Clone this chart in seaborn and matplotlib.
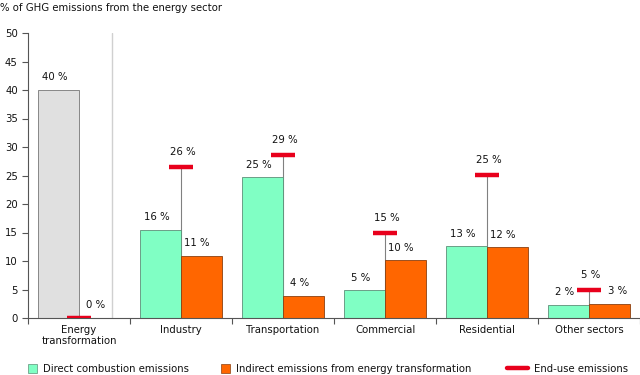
import matplotlib
matplotlib.use("Agg")
import matplotlib.pyplot as plt
import seaborn as sns
import pandas as pd
import numpy as np
from matplotlib.patches import Patch
from matplotlib.lines import Line2D

categories = ["Energy\ntransformation", "Industry", "Transportation", "Commercial", "Residential", "Other sectors"]
direct = [40.0, 15.5, 24.7, 4.9, 12.6, 2.3]
indirect = [0.0, 10.9, 3.9, 10.1, 12.45, 2.5]
end_use = [0.0, 26.5, 28.6, 15.0, 25.1, 4.9]
direct_labels = ["40 %", "16 %", "25 %", "5 %", "13 %", "2 %"]
indirect_labels = ["0 %", "11 %", "4 %", "10 %", "12 %", "3 %"]
end_labels = ["", "26 %", "29 %", "15 %", "25 %", "5 %"]
y_ticks = [0, 5, 10, 15, 20, 25, 30, 35, 40, 45, 50]

series_names = ["Direct combustion emissions", "Indirect emissions from energy transformation"]

GREEN = "#80FFC4"
ORANGE = "#FF6600"
RED = "#E8001C"
GRAY = "#E0E0E0"
DARK = "#555555"

sns.set_theme(style="white")
plt.rcParams["font.family"] = ["DejaVu Sans"]
plt.rcParams["text.color"] = "#111111"
FS = 7.3

df = pd.DataFrame({
    "category": categories * 2,
    "series": [series_names[0]] * len(categories) + [series_names[1]] * len(categories),
    "value": direct + indirect,
})

fig = plt.figure(figsize=(6.4, 3.75), dpi=100)
ax = fig.add_axes([28 / 640, 1 - 318 / 375, 612 / 640, 285 / 375])

x = np.arange(len(categories))

# connecting vertical lines (behind bars)
for xi, e in zip(x, end_use):
    if e > 0:
        ax.vlines(xi, 0, e, color="#808080", lw=0.8, zorder=1)

sns.barplot(data=df, x="category", y="value", hue="series", order=categories,
            hue_order=series_names, palette=[GREEN, ORANGE], width=0.8, saturation=1,
            edgecolor=DARK, linewidth=0.6, ax=ax, legend=False, zorder=2)

# recolor energy-transformation bar gray
n = len(categories)
bars = ax.patches[:2 * n]
bars[0].set_facecolor(GRAY)
bars[0].set_edgecolor("#777777")
for p in bars[1:n]:
    p.set_edgecolor("#5d8f78")
for p in bars[n:]:
    p.set_edgecolor("#8a4010")

# end-use marks
ax.hlines(end_use, x - 0.118, x + 0.118, color=RED, lw=3.2, zorder=4)

# labels
for i in range(n):
    ax.annotate(direct_labels[i], (x[i] - 0.2, direct[i]), xytext=(-3, 9), textcoords="offset points",
                ha="center", va="center", fontsize=FS, color="#111111")
    dx = -3
    if end_labels[i] and abs(end_use[i] - indirect[i]) < 4:
        dx = 6
    ax.annotate(indirect_labels[i], (x[i] + 0.2, indirect[i]), xytext=(dx, 9), textcoords="offset points",
                ha="center", va="center", fontsize=FS, color="#111111")
    if end_labels[i]:
        ax.annotate(end_labels[i], (x[i], end_use[i]), xytext=(1.5, 10.5), textcoords="offset points",
                    ha="center", va="center", fontsize=FS, color="#111111")

# separator line
ax.axvline(0.324, color="#d0d0d0", lw=1, zorder=0)

ax.set_xlim(-0.5, n - 0.5)
ax.set_ylim(0, 50)
ax.set_yticks(y_ticks)
ax.set_yticklabels([str(t) for t in y_ticks], fontsize=FS, color="#111111")
ax.set_xticks(x)
ax.set_xticklabels(categories, fontsize=FS, linespacing=1.1, color="#111111")
ax.set_xticks(np.arange(n + 1) - 0.5, minor=True)
ax.tick_params(axis="x", which="major", length=0, pad=5)
ax.tick_params(axis="x", which="minor", length=4, width=0.8, color=DARK, direction="out", bottom=True)
ax.tick_params(axis="y", length=4.3, width=0.8, color=DARK, direction="out", left=True, pad=3)
ax.set_xlabel("")
ax.set_ylabel("")
for s in ["top", "right"]:
    ax.spines[s].set_visible(False)
for s in ["left", "bottom"]:
    ax.spines[s].set_color(DARK)
    ax.spines[s].set_linewidth(0.8)
ax.grid(False)

fig.text(0, 1 - 8 / 375, "% of GHG emissions from the energy sector", fontsize=FS,
         ha="left", va="center")

# legends
common = dict(frameon=False, fontsize=FS, loc="center left", borderpad=0, borderaxespad=0,
              handletextpad=0.6)
l1 = fig.legend(handles=[Patch(facecolor=GREEN, edgecolor="#5d8f78", lw=0.5)],
                labels=[series_names[0]], bbox_to_anchor=(28 / 640, 1 - 369 / 375),
                handlelength=0.9, handleheight=0.85, **common)
l2 = fig.legend(handles=[Patch(facecolor=ORANGE, edgecolor="#8a4010", lw=0.5)],
                labels=[series_names[1]], bbox_to_anchor=(221 / 640, 1 - 369 / 375),
                handlelength=0.9, handleheight=0.85, **common)
l3 = fig.legend(handles=[Line2D([0], [0], color=RED, lw=3.2)],
                labels=["End-use emissions"], bbox_to_anchor=(507 / 640, 1 - 369 / 375),
                handlelength=2.1, **common)

fig.savefig("out.png", dpi=100)
